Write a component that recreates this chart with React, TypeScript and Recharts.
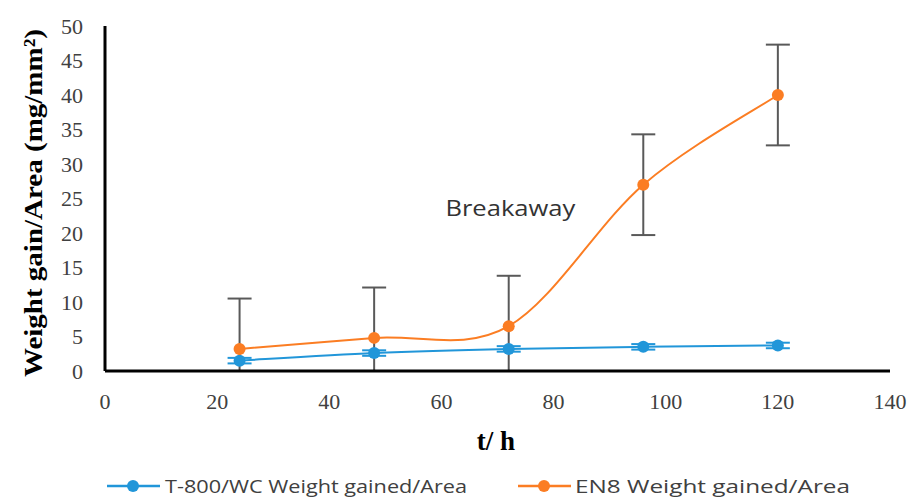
import React from 'react';
import {
  LineChart,
  Line,
  XAxis,
  YAxis,
  Legend,
  ErrorBar,
  ReferenceDot,
} from 'recharts';

// exposure time (h)
const hours = [24, 48, 72, 96, 120];
// weight gained per area, mg/mm²
const coatedGain = [1.5, 2.6, 3.2, 3.5, 3.7];
const coatedErr = [0.4, 0.4, 0.4, 0.4, 0.4];
const en8Gain = [3.2, 4.8, 6.5, 27, 40];
const en8Err = [7.3, 7.3, 7.3, 7.3, 7.3];

const xTicks = [0, 20, 40, 60, 80, 100, 120, 140];
const yTicks = [0, 5, 10, 15, 20, 25, 30, 35, 40, 45, 50];

const BLUE = '#2196d9';
const ORANGE = '#fb7d23';
const BAR = '#595959';

// error bars stop at the x axis, so the lower arm is capped at the value itself
const data = hours.map((h, i) => ({
  h,
  coated: coatedGain[i],
  coatedErr: [Math.min(coatedErr[i], coatedGain[i]), coatedErr[i]],
  en8: en8Gain[i],
  en8Err: [Math.min(en8Err[i], en8Gain[i]), en8Err[i]],
}));

// Excel-style smoothed line (Catmull-Rom through the points)
const smoothCurve = (context: any) => {
  let pts: [number, number][] = [];
  return {
    areaStart() {},
    areaEnd() {},
    lineStart() {
      pts = [];
    },
    lineEnd() {
      if (!pts.length) return;
      context.moveTo(pts[0][0], pts[0][1]);
      for (let i = 0; i < pts.length - 1; i++) {
        const p0 = pts[Math.max(i - 1, 0)];
        const p1 = pts[i];
        const p2 = pts[i + 1];
        const p3 = pts[Math.min(i + 2, pts.length - 1)];
        context.bezierCurveTo(
          p1[0] + (p2[0] - p0[0]) / 6,
          p1[1] + (p2[1] - p0[1]) / 6,
          p2[0] - (p3[0] - p1[0]) / 6,
          p2[1] - (p3[1] - p1[1]) / 6,
          p2[0],
          p2[1]
        );
      }
    },
    point(x: number, y: number) {
      pts.push([+x, +y]);
    },
  };
};

const serif = '"Liberation Serif", "Times New Roman", serif';
const sans = '"Open Sans", "Noto Sans", sans-serif';

const LegendIcon = ({ x, color }: { x: number; color: string }) => (
  <g>
    <line x1={x} y1={11} x2={x + 53} y2={11} stroke={color} strokeWidth={2.5} />
    <circle cx={x + 26} cy={11} r={6} fill={color} />
  </g>
);

const renderLegend = () => (
  <svg width={918} height={24} style={{ display: 'block', overflow: 'visible' }}>
    <LegendIcon x={107} color={BLUE} />
    <text x={165} y={18} fontFamily={sans} fontSize={19} fill="#404040" textLength={302} lengthAdjust="spacingAndGlyphs">
      T-800/WC Weight gained/Area
    </text>
    <LegendIcon x={518} color={ORANGE} />
    <text x={575} y={18} fontFamily={sans} fontSize={19} fill="#404040" textLength={275} lengthAdjust="spacingAndGlyphs">
      EN8 Weight gained/Area
    </text>
  </svg>
);

export default function App() {
  return (
    <div style={{ position: 'absolute', left: 0, top: 0, width: 918, height: 499, background: '#fff' }}>
      <LineChart
        width={918}
        height={499}
        data={data}
        margin={{ top: 26, right: 28, left: 0, bottom: 0 }}
      >
        <XAxis
          dataKey="h"
          type="number"
          domain={[0, 140]}
          ticks={xTicks}
          height={104}
          axisLine={{ stroke: '#000', strokeWidth: 3 }}
          tickLine={false}
          tickSize={0}
          tickMargin={22}
          tick={{ fill: '#404040', fontSize: 22, fontFamily: serif }}
          label={({ viewBox }: any) => (
            <text
              x={viewBox.x + viewBox.width * 0.498}
              y={viewBox.y + 79}
              textAnchor="middle"
              fontFamily={serif}
              fontWeight="bold"
              fontSize={27}
              fill="#000"
            >
              t/ h
            </text>
          )}
        />
        <YAxis
          type="number"
          domain={[0, 50]}
          ticks={yTicks}
          width={105}
          axisLine={{ stroke: '#000', strokeWidth: 3 }}
          tickLine={false}
          tickSize={0}
          tickMargin={22}
          tick={{ fill: '#404040', fontSize: 22, fontFamily: serif }}
          label={() => (
            <text
              transform="translate(42 203) rotate(-90)"
              textAnchor="middle"
              fontFamily={serif}
              fontWeight="bold"
              fontSize={26}
              fill="#000"
              textLength={348}
              lengthAdjust="spacingAndGlyphs"
            >
              Weight gain/Area (mg/mm²)
            </text>
          )}
        />
        <Legend
          verticalAlign="bottom"
          height={24}
          content={renderLegend}
          wrapperStyle={{ left: 0, width: 918, bottom: 0 }}
        />
        <ReferenceDot
          x={72.3}
          y={23.6}
          r={0}
          stroke="none"
          label={({ viewBox }: any) => (
            <text
              x={viewBox.x + viewBox.width / 2}
              y={viewBox.y + viewBox.height / 2 + 8}
              textAnchor="middle"
              fontFamily={sans}
              fontSize={22}
              fill="#333"
              textLength={130}
              lengthAdjust="spacingAndGlyphs"
            >
              Breakaway
            </text>
          )}
        />
        <Line
          dataKey="coated"
          name="T-800/WC Weight gained/Area"
          type={smoothCurve as any}
          stroke={BLUE}
          strokeWidth={2}
          dot={{ r: 6, fill: BLUE, stroke: 'none' }}
          isAnimationActive={false}
        >
          <ErrorBar dataKey="coatedErr" width={12} stroke={BLUE} strokeWidth={2} direction="y" />
        </Line>
        <Line
          dataKey="en8"
          name="EN8 Weight gained/Area"
          type={smoothCurve as any}
          stroke={ORANGE}
          strokeWidth={2}
          dot={{ r: 6, fill: ORANGE, stroke: 'none' }}
          isAnimationActive={false}
        >
          <ErrorBar dataKey="en8Err" width={12} stroke={BAR} strokeWidth={2} direction="y" />
        </Line>
      </LineChart>
    </div>
  );
}
